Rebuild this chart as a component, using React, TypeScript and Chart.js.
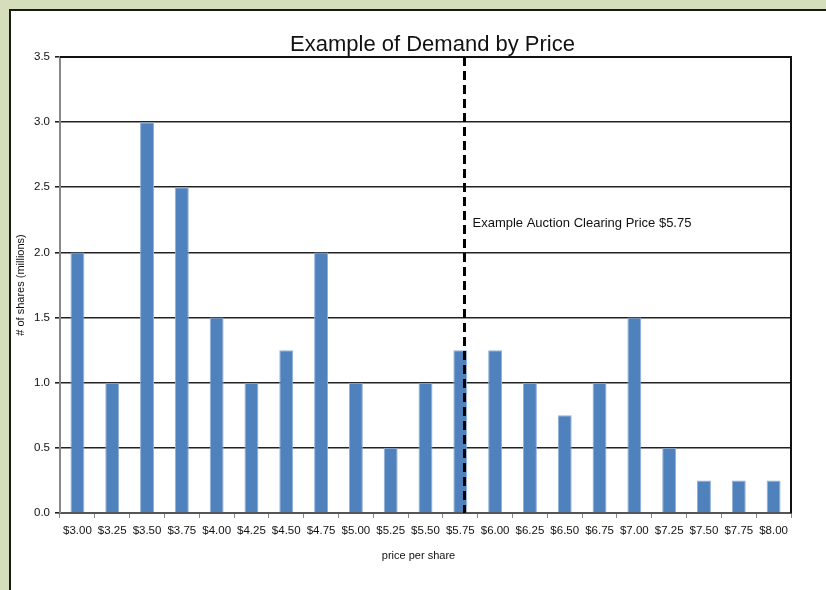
import React, { useEffect, useRef } from "react";
import { Chart, registerables } from "chart.js";

Chart.register(...registerables);

const categories = ["$3.00", "$3.25", "$3.50", "$3.75", "$4.00", "$4.25", "$4.50", "$4.75", "$5.00", "$5.25", "$5.50", "$5.75", "$6.00", "$6.25", "$6.50", "$6.75", "$7.00", "$7.25", "$7.50", "$7.75", "$8.00"];
const shares = [2, 1, 3, 2.5, 1.5, 1, 1.25, 2, 1, 0.5, 1, 1.25, 1.25, 1, 0.75, 1, 1.5, 0.5, 0.25, 0.25, 0.25];
const clearingIndex = 11;
const clearingLabel = "Example Auction Clearing Price $5.75";
const chartTitle = "Example of Demand by Price";
const xTitle = "price per share";
const yTitle = "# of shares (millions)";

const FONT = "'Liberation Sans', Arial, sans-serif";

const overlayPlugin = {
  id: "overlay",
  afterDatasetsDraw(chart: any) {
    const { ctx, chartArea, scales } = chart;
    const x = scales.x;
    const catW = (chartArea.right - chartArea.left) / categories.length;
    const lx = x.getPixelForValue(clearingIndex) + catW * 0.12;
    ctx.save();
    // plot border top & right
    ctx.strokeStyle = "#111";
    ctx.lineWidth = 2;
    ctx.beginPath();
    ctx.moveTo(chartArea.left, chartArea.top);
    ctx.lineTo(chartArea.right, chartArea.top);
    ctx.lineTo(chartArea.right, chartArea.bottom);
    ctx.stroke();
    // dashed clearing line
    ctx.strokeStyle = "#000";
    ctx.lineWidth = 3;
    ctx.setLineDash([9, 5]);
    ctx.beginPath();
    ctx.moveTo(lx, chartArea.top);
    ctx.lineTo(lx, chartArea.bottom);
    ctx.stroke();
    ctx.setLineDash([]);
    // annotation
    ctx.fillStyle = "#111";
    ctx.font = `13px ${FONT}`;
    ctx.textAlign = "left";
    ctx.textBaseline = "middle";
    const ys = scales.y;
    ctx.fillText(clearingLabel, lx + 8, ys.getPixelForValue(2.22));
    // title
    ctx.font = `22px ${FONT}`;
    ctx.textAlign = "center";
    ctx.textBaseline = "alphabetic";
    ctx.fillText(chartTitle, (chartArea.left + chartArea.right) / 2 + 7, chartArea.top - 6);
    // axis titles
    ctx.font = `11px ${FONT}`;
    ctx.textBaseline = "middle";
    ctx.fillText(xTitle, (chartArea.left + chartArea.right) / 2 - 7, chartArea.bottom + 43);
    ctx.translate(chartArea.left - 39, (chartArea.top + chartArea.bottom) / 2);
    ctx.rotate(-Math.PI / 2);
    ctx.fillText(yTitle, 0, 0);
    ctx.restore();
  },
};

export default function App() {
  const ref = useRef<HTMLCanvasElement>(null);
  useEffect(() => {
    if (!ref.current) return;
    const chart = new Chart(ref.current, {
      type: "bar",
      data: {
        labels: categories,
        datasets: [
          {
            data: shares,
            backgroundColor: "#4f81bd",
            borderColor: "#92afd6",
            borderWidth: { left: 1, right: 1, top: 1, bottom: 0 },
            barPercentage: 0.4,
            categoryPercentage: 1,
          },
        ],
      },
      options: {
        animation: false,
        responsive: false,
        maintainAspectRatio: false,
        layout: { padding: { left: 10, top: 57, right: 35, bottom: 0 } },
        plugins: { legend: { display: false }, tooltip: { enabled: false }, title: { display: false } },
        scales: {
          x: {
            grid: { drawOnChartArea: false, drawTicks: true, tickLength: 5, color: "#888", offset: true },
            border: { color: "#555", width: 2 },
            ticks: { color: "#111", font: { family: FONT, size: 11.5 }, padding: 6, maxRotation: 0, autoSkip: false },
            afterFit: (s: any) => { s.height = 77; },
          },
          y: {
            min: 0,
            max: 3.5,
            ticks: { stepSize: 0.5, color: "#111", font: { family: FONT, size: 11.5 }, padding: 5, callback: (v: any) => Number(v).toFixed(1) },
            grid: { color: "#222", lineWidth: 1.6, tickLength: 5, tickColor: "#222", tickWidth: 1.6 },
            border: { color: "#888", width: 2 },
            afterFit: (s: any) => { s.width = 50; },
          },
        },
      },
      plugins: [overlayPlugin],
    });
    return () => chart.destroy();
  }, []);
  return (
    <div style={{ position: "fixed", left: 0, top: 0, width: 826, height: 590, background: "#d5deba", overflow: "hidden" }}>
      <div style={{ position: "absolute", left: 9, top: 9, width: 830, height: 600, background: "#fff", border: "2px solid #1a1a1a" }} />
      <canvas ref={ref} width={826} height={590} style={{ position: "absolute", left: 0, top: 0, width: 826, height: 590 }} />
    </div>
  );
}
